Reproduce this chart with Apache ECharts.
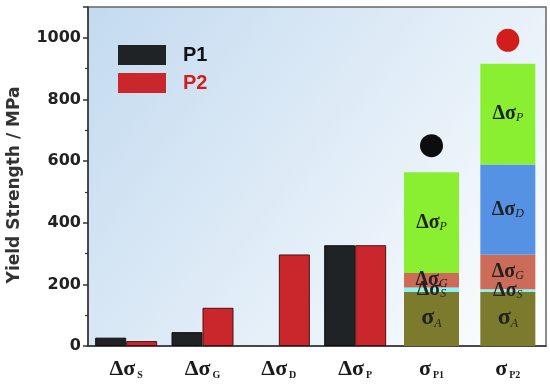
<!DOCTYPE html>
<html><head><meta charset="utf-8">
<script src="https://cdn.jsdelivr.net/npm/echarts@6/dist/echarts.min.js"></script>
<style>html,body{margin:0;padding:0;background:#fff}#c{width:550px;height:392px}</style>
</head><body><div id="c"></div>
<script>
// ---- data ----
const categories = ['ΔσS', 'ΔσG', 'ΔσD', 'ΔσP', 'σP1', 'σP2'];
const catMain = ['Δσ', 'Δσ', 'Δσ', 'Δσ', 'σ', 'σ'];
const catSub = ['S', 'G', 'D', 'P', 'P1', 'P2'];
const p1Values = [27, 45, '-', 327, '-', '-'];
const p2Values = [16, 124, 297, 327, '-', '-'];
const sigmaA  = ['-', '-', '-', '-', 175, 175];
const dSigmaS = ['-', '-', '-', '-', 15, 9];
const dSigmaG = ['-', '-', '-', '-', 47, 112];
const dSigmaD = ['-', '-', '-', '-', '-', 293];
const dSigmaP = ['-', '-', '-', '-', 327, 327];
const measured = ['-', '-', '-', '-', 650, 992];
const legendNames = ['P1', 'P2'];
const stackNames = ['σA', 'ΔσS', 'ΔσG', 'ΔσD', 'ΔσP'];
const stackMain = ['σ', 'Δσ', 'Δσ', 'Δσ', 'Δσ'];
const stackSub = ['A', 'S', 'G', 'D', 'P'];

// ---- styles ----
const stackColors = ['#7c7a2c', '#8ef2f0', '#cc6b58', '#5592e4', '#8aef30'];
const measuredColors = ['#0d0d0d', '#d21d1d'];

const chart = echarts.init(document.getElementById('c'));

const stackSeries = [sigmaA, dSigmaS, dSigmaG, dSigmaD, dSigmaP].map((arr, k) => ({
  name: stackNames[k],
  type: 'bar',
  xAxisIndex: 1,
  stack: 'total',
  barWidth: 55,
  data: arr,
  itemStyle: { color: stackColors[k] },
  label: {
    show: true,
    position: 'inside',
    formatter: () => k === 0 ? `{b|${stackMain[k]}}{s|${stackSub[k]}}` : `{a|${stackMain[k]}}{s|${stackSub[k]}}`,
    rich: {
      a: { fontFamily: 'Liberation Serif', fontWeight: 'bold', fontSize: 20, lineHeight: 20, color: '#222', verticalAlign: 'bottom' },
      b: { fontFamily: 'Liberation Serif', fontWeight: 'bold', fontSize: 24, lineHeight: 22, color: '#222', verticalAlign: 'bottom' },
      s: { fontFamily: 'Liberation Serif', fontStyle: 'italic', fontSize: 12, lineHeight: 13, color: '#222', verticalAlign: 'bottom' }
    }
  }
}));

const option = {
  animation: false,
  backgroundColor: '#ffffff',
  grid: {
    left: 88, right: 4, top: 7, bottom: 46,
    containLabel: false,
    outerBoundsMode: 'none',
    show: true,
    borderColor: '#666',
    borderWidth: 1.5,
    backgroundColor: new echarts.graphic.LinearGradient(0, 0, 1, 1, [
      { offset: 0, color: '#c3daef' },
      { offset: 0.55, color: '#e3eef8' },
      { offset: 1, color: '#ffffff' }
    ])
  },
  legend: {
    orient: 'vertical',
    left: 118, top: 45,
    padding: 0,
    itemWidth: 48, itemHeight: 20, itemGap: 8,
    icon: 'rect',
    itemStyle: { borderWidth: 0 },
    data: [
      { name: legendNames[0], textStyle: { color: '#111' } },
      { name: legendNames[1], textStyle: { color: '#d21d1d' } }
    ],
    textStyle: { fontFamily: 'Liberation Sans', fontWeight: 'bold', fontSize: 20, padding: [0, 0, 0, 12] }
  },
  xAxis: [{
    type: 'category',
    data: categories,
    axisLine: { lineStyle: { color: '#333', width: 1.5 } },
    axisTick: { alignWithLabel: true, length: 5, lineStyle: { color: '#333', width: 1.5 } },
    axisLabel: {
      interval: 0,
      margin: 12,
      formatter: (v, i) => `{a|${catMain[i]}}{s|${catSub[i]}}`,
      rich: {
        a: { fontFamily: 'Liberation Serif', fontWeight: 'bold', fontSize: 22, lineHeight: 22, color: '#1a1a1a', verticalAlign: 'top', padding: [0, 2, 6, 0] },
        s: { fontFamily: 'Liberation Serif', fontWeight: 'bold', fontSize: 10, lineHeight: 10, color: '#1a1a1a', verticalAlign: 'bottom' }
      }
    }
  }, {
    type: 'category',
    data: categories,
    show: false
  }],
  yAxis: {
    type: 'value',
    min: 0, max: 1100, interval: 200,
    name: 'Yield Strength / MPa',
    nameLocation: 'middle',
    nameGap: 65,
    nameTextStyle: { fontFamily: 'DejaVu Sans', fontWeight: 'bold', fontSize: 17, color: '#333', padding: [0, 17, 0, 0] },
    axisLine: { show: true, lineStyle: { color: '#333', width: 1.5 } },
    axisTick: { show: true, length: 5, lineStyle: { color: '#333', width: 1.5 } },
    minorTick: { show: true, splitNumber: 2, length: 3, lineStyle: { color: '#333', width: 1.2 } },
    splitLine: { show: false },
    axisLabel: { showMaxLabel: false, margin: 7, formatter: (v) => String(v),
      fontFamily: 'DejaVu Sans', fontWeight: 'bold', fontSize: 16, color: '#222' }
  },
  series: [
    { name: legendNames[0], type: 'bar', barWidth: 31, barGap: '0%', data: p1Values,
      itemStyle: { color: '#1f2326', borderColor: '#111', borderWidth: 1 } },
    { name: legendNames[1], type: 'bar', barWidth: 31, barGap: '0%', data: p2Values,
      itemStyle: { color: '#c9272b', borderColor: '#4a1212', borderWidth: 1 } },
    ...stackSeries,
    { name: 'measured', type: 'scatter', xAxisIndex: 1, symbolSize: 23,
      data: measured.map((v, i) => ({ value: v, itemStyle: { opacity: 1, color: i === 4 ? measuredColors[0] : measuredColors[1] } })) }
  ]
};
chart.setOption(option);
</script>
</body></html>
